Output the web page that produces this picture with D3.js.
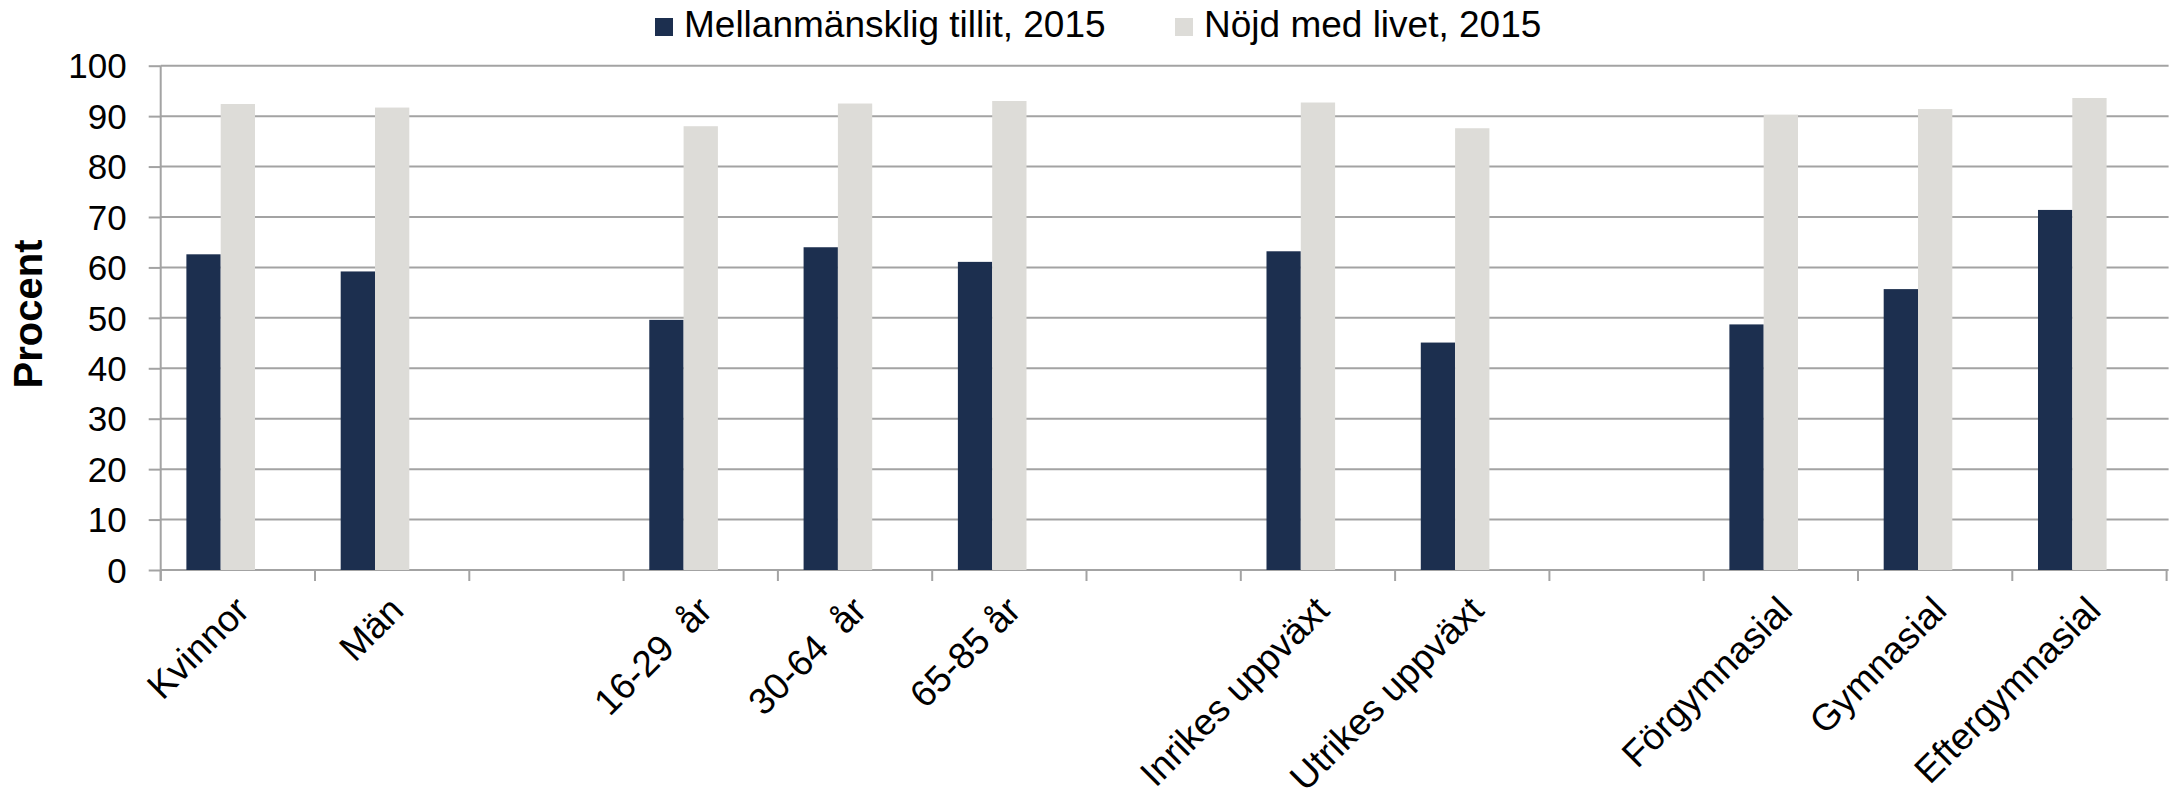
<!DOCTYPE html>
<html>
<head>
<meta charset="utf-8">
<script src="https://cdn.jsdelivr.net/npm/d3@7"></script>
<style>
  html, body { margin: 0; padding: 0; background: #fff; }
  svg text { font-family: "Liberation Sans", Arial, sans-serif; fill: #000; }
</style>
</head>
<body>
<svg id="chart" width="2172" height="797"></svg>
<script>
"use strict";

// categories, empty strings are the gaps between groups
var categories = ['Kvinnor', 'Män', '', '16-29  år', '30-64  år', '65-85 år', '', 'Inrikes uppväxt', 'Utrikes uppväxt', '', 'Förgymnasial', 'Gymnasial', 'Eftergymnasial'];

var series_names = ['Mellanmänsklig tillit, 2015', 'Nöjd med livet, 2015'];

var tillit_2015 = [62.6, 59.2, null, 49.6, 64.0, 61.1, null, 63.2, 45.1, null, 48.7, 55.7, 71.4];
var nojd_2015 = [92.4, 91.7, null, 88.0, 92.5, 93.0, null, 92.7, 87.6, null, 90.3, 91.4, 93.6];

var y_ticks = [0, 10, 20, 30, 40, 50, 60, 70, 80, 90, 100];

var colors = ['#1c2f4f', '#dddcd8'];

var config = {
    left: 160.7,
    right: 2166.6,
    top: 65.7,
    bottom: 570,
    grid_color: '#a3a3a3'
};

var svg = d3.select('#chart');

var x = d3.scaleBand()
    .domain(d3.range(categories.length))
    .range([config.left, config.right])
    .paddingInner(0)
    .paddingOuter(0);

// three slots per category, the third one is empty as in the original
var x_inner = d3.scaleBand()
    .domain([0, 1, 2])
    .range([0, x.bandwidth() * 0.667]);

var y = d3.scaleLinear()
    .domain([0, 100])
    .range([config.bottom, config.top]);

// gridlines + y axis
var y_axis = svg.append('g')
    .attr('transform', 'translate(' + config.left + ',0)')
    .call(d3.axisLeft(y).tickValues(y_ticks).tickSize(12).tickPadding(22));

y_axis.select('.domain').remove();
y_axis.selectAll('.tick line').attr('stroke', config.grid_color).attr('stroke-width', 2);
y_axis.selectAll('.tick text').attr('font-size', 35).attr('dy', '0.35em');

svg.append('g').classed('grid', true)
    .selectAll('line')
    .data(y_ticks)
    .enter().append('line')
        .attr('x1', config.left)
        .attr('x2', config.right + 2)
        .attr('y1', function(d) { return y(d); })
        .attr('y2', function(d) { return y(d); })
        .attr('stroke', config.grid_color)
        .attr('stroke-width', 2);

svg.append('line')
    .attr('x1', config.left).attr('x2', config.left)
    .attr('y1', config.top).attr('y2', config.bottom + 11)
    .attr('stroke', config.grid_color)
    .attr('stroke-width', 2);

// x ticks sit on category boundaries
svg.append('g').classed('x-ticks', true)
    .selectAll('line')
    .data(d3.range(categories.length + 1))
    .enter().append('line')
        .attr('x1', function(i) { return config.left + i * x.step(); })
        .attr('x2', function(i) { return config.left + i * x.step(); })
        .attr('y1', config.bottom)
        .attr('y2', config.bottom + 11)
        .attr('stroke', config.grid_color)
        .attr('stroke-width', 2);

// bars
var bar_data = [];
categories.forEach(function(c, i) {
    [tillit_2015, nojd_2015].forEach(function(s, k) {
        if (s[i] !== null) bar_data.push({ cat: i, series: k, value: s[i] });
    });
});

var group_offset = (x.bandwidth() - x_inner.range()[1]) / 2;

svg.append('g').classed('bars', true)
    .selectAll('rect')
    .data(bar_data)
    .enter().append('rect')
        .attr('x', function(d) { return x(d.cat) + group_offset + x_inner(d.series); })
        .attr('width', x_inner.bandwidth())
        .attr('y', function(d) { return y(d.value); })
        .attr('height', function(d) { return y(0) - y(d.value); })
        .attr('fill', function(d) { return colors[d.series]; });

// category labels, rotated
svg.append('g').classed('x-labels', true)
    .selectAll('text')
    .data(categories)
    .enter().append('text')
        .attr('transform', function(d, i) { return 'translate(' + (x(i) + x.bandwidth() / 2 + 4) + ',603) rotate(-45)'; })
        .attr('text-anchor', 'end')
        .attr('dy', '0.36em')
        .attr('font-size', 37)
        .style('white-space', 'pre')
        .text(function(d) { return d; });

// y title
svg.append('text')
    .attr('transform', 'translate(42,314) rotate(-90)')
    .attr('text-anchor', 'middle')
    .attr('font-size', 40)
    .attr('font-weight', 'bold')
    .text('Procent');

// legend
var legend = svg.append('g').classed('legend', true);
var legend_x = [655, 1175];

series_names.forEach(function(name, k) {
    legend.append('rect')
        .attr('x', legend_x[k])
        .attr('y', 18)
        .attr('width', 18)
        .attr('height', 18)
        .attr('fill', colors[k]);
    legend.append('text')
        .attr('x', legend_x[k] + 29)
        .attr('y', 36.5)
        .attr('font-size', 37)
        .text(name);
});
</script>
</body>
</html>
